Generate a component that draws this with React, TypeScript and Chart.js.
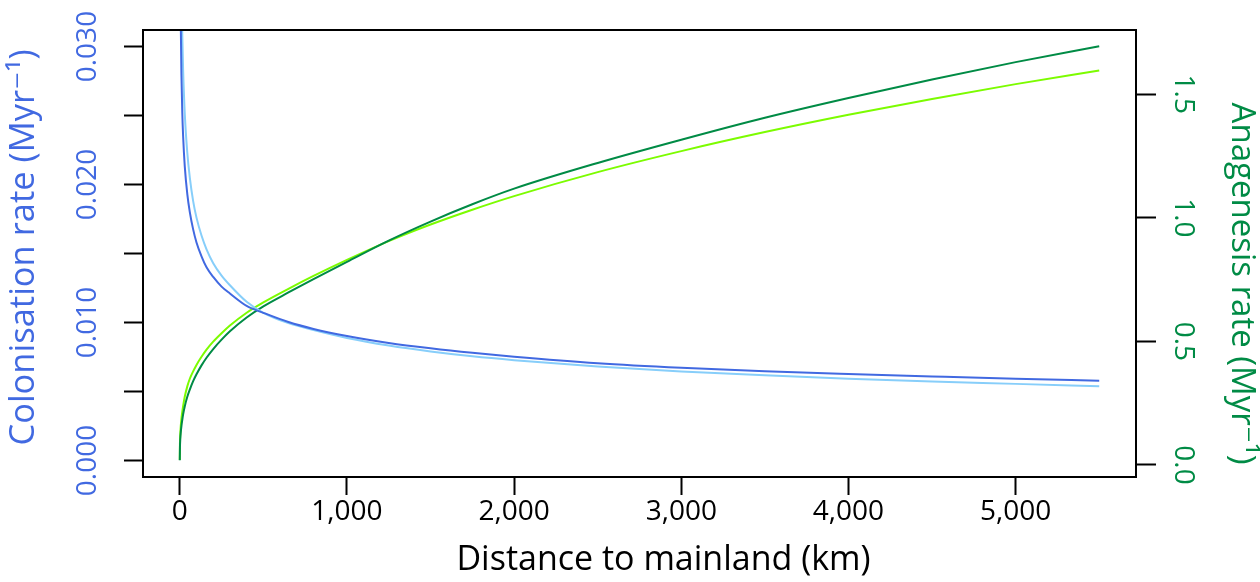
import React, { useEffect, useRef } from 'react';
import { Chart, registerables } from 'chart.js';

Chart.register(...registerables);

// Distance to mainland (km)
const distanceKm = [0, 1, 3, 6, 10, 15, 20, 30, 45, 60, 80, 100, 130, 160, 200, 250, 300, 400, 500, 650, 800, 1000, 1250, 1500, 1750, 2000, 2500, 3000, 3500, 4000, 4500, 5000, 5500];

// Colonisation rate (Myr^-1), left axis
const colonisationRoyal = [null, 0.049, 0.0374, 0.0316, 0.0279, 0.0252, 0.0235, 0.0213, 0.0193, 0.018, 0.01675, 0.0158, 0.0148, 0.014, 0.0133, 0.0126, 0.0121, 0.0112, 0.0107, 0.01003, 0.00953, 0.00902, 0.00852, 0.00813, 0.0078, 0.00752, 0.00705, 0.00672, 0.00647, 0.00627, 0.00609, 0.00592, 0.00578];
const colonisationSky = [null, 0.0685, 0.0495, 0.0404, 0.0347, 0.0308, 0.0283, 0.0251, 0.0223, 0.0205, 0.0188, 0.0176, 0.0163, 0.0153, 0.0143, 0.0134, 0.0127, 0.0115, 0.0107, 0.00995, 0.00945, 0.00888, 0.00833, 0.0079, 0.00755, 0.00727, 0.00681, 0.00645, 0.00617, 0.00593, 0.00572, 0.00555, 0.00537];

// Anagenesis rate (Myr^-1), right axis
const anagenesisDark = [0.019, 0.07, 0.105, 0.132, 0.158, 0.183, 0.205, 0.238, 0.276, 0.305, 0.339, 0.367, 0.403, 0.434, 0.469, 0.507, 0.541, 0.597, 0.642, 0.698, 0.752, 0.822, 0.908, 0.985, 1.055, 1.118, 1.222, 1.316, 1.405, 1.485, 1.56, 1.63, 1.694];
const anagenesisLawn = [0.02, 0.085, 0.125, 0.158, 0.188, 0.215, 0.238, 0.277, 0.318, 0.349, 0.379, 0.405, 0.438, 0.467, 0.499, 0.533, 0.564, 0.616, 0.658, 0.713, 0.765, 0.83, 0.906, 0.973, 1.033, 1.088, 1.185, 1.27, 1.347, 1.417, 1.481, 1.541, 1.596];

// Ticks
const xTicks = [0, 1000, 2000, 3000, 4000, 5000];
const leftTicks = [0, 0.005, 0.01, 0.015, 0.02, 0.025, 0.03];
const leftLabelled = [0, 0.01, 0.02, 0.03];
const rightTicks = [0, 0.5, 1.0, 1.5];

const xTitle = 'Distance to mainland (km)';
const leftTitle = 'Colonisation rate (Myr⁻¹)';
const rightTitle = 'Anagenesis rate (Myr⁻¹)';

const FONT = '"Open Sans", "DejaVu Sans", sans-serif';
const BLUE = '#4169E1';
const SKY = '#87CEFA';
const GREEN = '#008B45';
const LAWN = '#7CFC00';

function toPoints(xs: number[], ys: (number | null)[]) {
  const pts: { x: number; y: number }[] = [];
  xs.forEach((x, i) => {
    const y = ys[i];
    if (y !== null && y !== undefined) pts.push({ x, y });
  });
  return pts;
}

const boxPlugin = {
  id: 'rbox',
  afterDraw(chart: any) {
    const { ctx, chartArea: a } = chart;
    ctx.save();
    ctx.strokeStyle = '#000';
    ctx.lineWidth = 2;
    ctx.strokeRect(a.left, a.top, a.right - a.left, a.bottom - a.top);
    ctx.restore();
  },
};

// Axis titles (placed as in the R original)
const titlePlugin = {
  id: 'rtitles',
  afterDraw(chart: any) {
    const { ctx, chartArea: a } = chart;
    const midY = (a.top + a.bottom) / 2;
    ctx.save();
    ctx.textAlign = 'center';
    ctx.textBaseline = 'middle';
    ctx.font = `34px ${FONT}`;
    ctx.fillStyle = '#000';
    ctx.fillText(xTitle, (a.left + a.right) / 2 + 24, 560);

    ctx.save();
    ctx.font = `34.5px ${FONT}`;
    ctx.translate(24, midY - 6);
    ctx.rotate(-Math.PI / 2);
    ctx.fillStyle = BLUE;
    ctx.fillText(leftTitle, 0, 0);
    ctx.restore();

    ctx.save();
    ctx.font = `33px ${FONT}`;
    ctx.translate(1241, midY + 30);
    ctx.rotate(Math.PI / 2);
    ctx.fillStyle = GREEN;
    ctx.fillText(rightTitle, 0, 0);
    ctx.restore();
    ctx.restore();
  },
};

export default function App() {
  const ref = useRef<HTMLCanvasElement>(null);
  useEffect(() => {
    document.body.style.margin = '0';
    const line = (label: string, ys: (number | null)[], color: string, axis: string) => ({
      label,
      data: toPoints(distanceKm, ys),
      yAxisID: axis,
      borderColor: color,
      backgroundColor: color,
      borderWidth: 2,
      pointRadius: 0,
      fill: false,
      cubicInterpolationMode: 'monotone' as const,
    });
    const chart = new Chart(ref.current as HTMLCanvasElement, {
      type: 'line',
      data: {
        datasets: [
          line('Colonisation (royal blue)', colonisationRoyal, BLUE, 'yL'),
          line('Colonisation (sky blue)', colonisationSky, SKY, 'yL'),
          line('Anagenesis (dark green)', anagenesisDark, GREEN, 'yR'),
          line('Anagenesis (lawn green)', anagenesisLawn, LAWN, 'yR'),
        ],
      },
      options: {
        responsive: false,
        animation: false,
        devicePixelRatio: 1,
        layout: { padding: { top: 30, left: 0, right: 0, bottom: 0 } },
        plugins: { legend: { display: false }, tooltip: { enabled: false } },
        scales: {
          x: {
            type: 'linear',
            position: 'bottom',
            min: -220,
            max: 5720,
            afterBuildTicks: (s: any) => { s.ticks = xTicks.map((v) => ({ value: v })); },
            afterFit: (s: any) => { s.height = 105; },
            grid: { drawOnChartArea: false, drawTicks: true, tickLength: 18, tickColor: '#000', tickWidth: 2 },
            border: { display: false },
            ticks: {
              color: '#000',
              font: { family: FONT, size: 28 },
              padding: 0,
              autoSkip: false,
              minRotation: 0,
              maxRotation: 0,
              callback: (v: any) => Number(v).toLocaleString('en-US'),
            },
            title: { display: false, text: xTitle },
          },
          yL: {
            type: 'linear',
            position: 'left',
            min: -0.0012,
            max: 0.0312,
            afterBuildTicks: (s: any) => { s.ticks = leftTicks.map((v) => ({ value: v })); },
            afterFit: (s: any) => { s.width = 143; },
            grid: { drawOnChartArea: false, drawTicks: true, tickLength: 19, tickColor: '#000', tickWidth: 2 },
            border: { display: false },
            ticks: {
              color: BLUE,
              font: { family: FONT, size: 28 },
              padding: 0,
              autoSkip: false,
              minRotation: 90,
              maxRotation: 90,
              crossAlign: 'center',
              callback: (v: any) => (leftLabelled.includes(v) ? Number(v).toFixed(3) : ''),
            },
            title: { display: false, text: leftTitle },
          },
          yR: {
            type: 'linear',
            position: 'right',
            min: -0.0486,
            max: 1.76,
            afterBuildTicks: (s: any) => { s.ticks = rightTicks.map((v) => ({ value: v })); },
            afterFit: (s: any) => { s.width = 124; },
            grid: { drawOnChartArea: false, drawTicks: true, tickLength: 20, tickColor: '#000', tickWidth: 2 },
            border: { display: false },
            ticks: {
              color: GREEN,
              font: { family: FONT, size: 28 },
              padding: 7,
              autoSkip: false,
              minRotation: -90,
              maxRotation: -90,
              crossAlign: 'center',
              callback: (v: any) => Number(v).toFixed(1),
            },
            title: { display: false, text: rightTitle },
          },
        },
      },
      plugins: [boxPlugin, titlePlugin],
    } as any);
    return () => chart.destroy();
  }, []);
  return (
    <div style={{ position: 'absolute', left: 0, top: 0, width: 1260, height: 582, background: '#fff' }}>
      <canvas ref={ref} width={1260} height={582} style={{ display: 'block' }} />
    </div>
  );
}
